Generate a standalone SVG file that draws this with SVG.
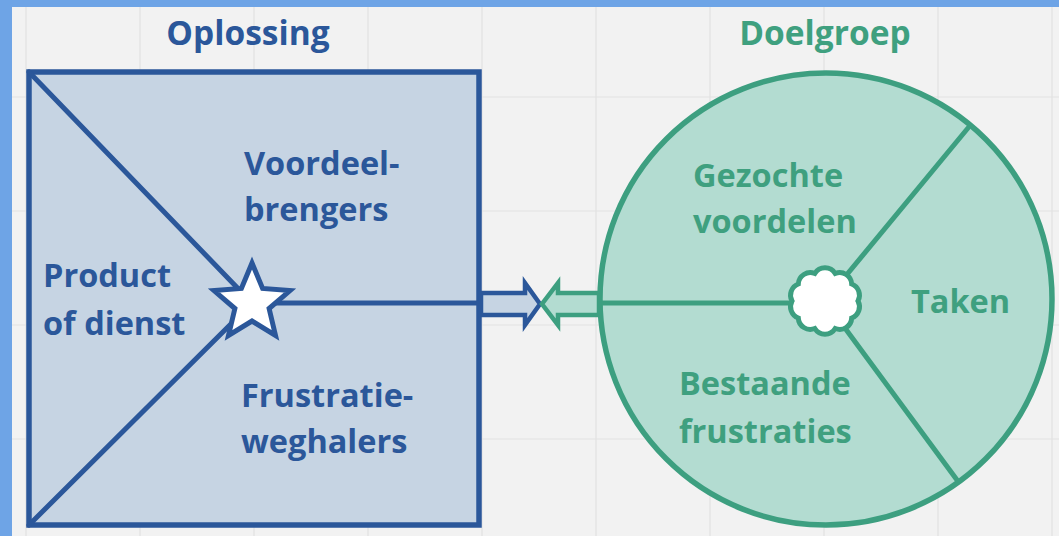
<svg xmlns="http://www.w3.org/2000/svg" width="1059" height="536" viewBox="0 0 1059 536">
<style>
.bt{font-family:"Open Sans","Liberation Sans",sans-serif;font-weight:700;font-size:32.5px;fill:#2b579a}
.gt{font-family:"Open Sans","Liberation Sans",sans-serif;font-weight:700;font-size:32.5px;fill:#3fa07f}
.ttl{font-size:33.5px}
.grid{stroke:#e2e2e2;stroke-width:1.2}
.bs{stroke:#2b579a;stroke-width:5;fill:none;stroke-linecap:round;stroke-linejoin:round}
.gs{stroke:#3d9f80;stroke-width:5;fill:none;stroke-linecap:round;stroke-linejoin:round}
</style>
<rect width="1059" height="536" fill="#f2f2f2"/>
<g id="grid">
<path class="grid" d="M26,0V536M140,0V536M254,0V536M368,0V536M482,0V536M596,0V536M710,0V536M824,0V536M938,0V536M1052,0V536M0,97H1059M0,211H1059M0,325H1059M0,439H1059"/>
</g>
<rect x="0" y="0" width="1059" height="7" fill="#6ea4e6"/>
<rect x="0" y="0" width="12" height="536" fill="#6ea4e6"/>
<g id="oplossing">
<rect x="29" y="72" width="450" height="453" fill="#c6d4e3" stroke="#2b579a" stroke-width="5.5"/>
<text class="bt ttl" x="248" y="45" text-anchor="middle">Oplossing</text>
</g>
<g id="doelgroep">
<circle cx="826" cy="299" r="226" fill="#b3dcd1" stroke="#3d9f80" stroke-width="5.5"/>
<text class="gt ttl" x="825" y="45" text-anchor="middle">Doelgroep</text>
</g>
<g id="connectors">
<path class="bs" d="M29,72L252,303M29,525L252,303M252,303H481"/>
<path class="gs" d="M600,303H825M825,301L968,128M825,301L957,480"/>
<path d="M481,293H525V283L540,304L525,325V315H481Z" fill="#c6d4e3" stroke="#2b579a" stroke-width="4.5" stroke-linejoin="miter"/>
<path d="M599,293H558V283L542,304L558,325V315H599Z" fill="#b3dcd1" stroke="#3d9f80" stroke-width="4.5" stroke-linejoin="miter"/>
</g>
<g id="star">
<polygon points="252,263 262.6,288.4 290,290.6 269.1,308.5 275.5,335.4 252,321 228.5,335.4 234.9,308.5 214,290.6 241.4,288.4" fill="#ffffff" stroke="#2b579a" stroke-width="5" stroke-linejoin="miter"/>
</g>
<g id="cloud">
<path d="M858,301A12,12 0 0 1 851.7,318A12,12 0 0 1 835.2,328.5A12,12 0 0 1 814.8,328.5A12,12 0 0 1 798.3,318A12,12 0 0 1 792,301A12,12 0 0 1 798.3,284A12,12 0 0 1 814.8,273.5A12,12 0 0 1 835.2,273.5A12,12 0 0 1 851.7,284A12,12 0 0 1 858,301Z" fill="#ffffff" stroke="#3d9f80" stroke-width="5"/>
</g>
<g id="product">
<text class="bt" x="43" y="287">Product</text>
<text class="bt" x="43" y="335">of dienst</text>
</g>
<g id="voordeelbrengers">
<text class="bt" x="244" y="175">Voordeel-</text>
<text class="bt" x="244" y="221">brengers</text>
</g>
<g id="frustratieweghalers">
<text class="bt" x="241" y="407">Frustratie-</text>
<text class="bt" x="241" y="453">weghalers</text>
</g>
<g id="gezochtevoordelen">
<text class="gt" x="693" y="187">Gezochte</text>
<text class="gt" x="693" y="233">voordelen</text>
</g>
<g id="taken">
<text class="gt" x="911" y="313">Taken</text>
</g>
<g id="bestaandefrustraties">
<text class="gt" x="679" y="395">Bestaande</text>
<text class="gt" x="679" y="443">frustraties</text>
</g>
</svg>
